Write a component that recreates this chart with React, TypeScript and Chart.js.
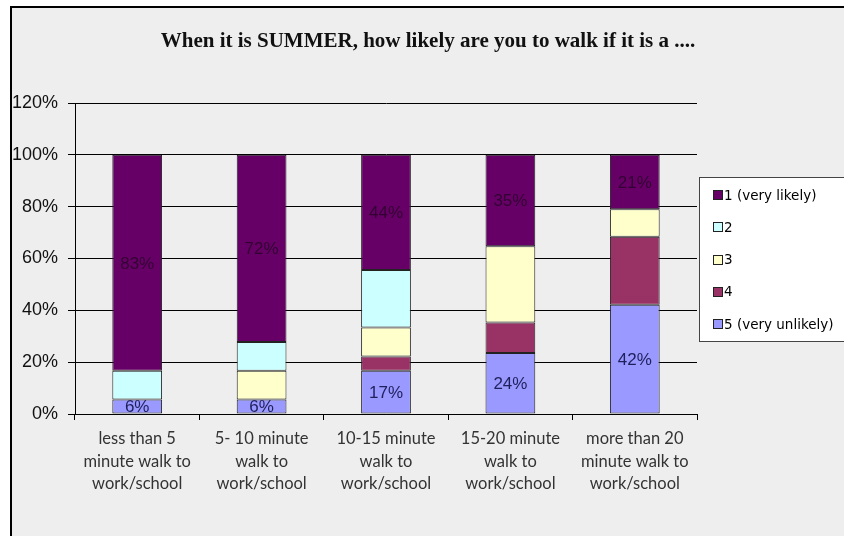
import { useEffect, useRef } from 'react';
import { Chart, registerables } from 'chart.js';

Chart.register(...registerables);

// Walking distance categories (x axis), one line per array entry
const categories: string[][] = [
  ['less than 5', 'minute walk to', 'work/school'],
  ['5- 10 minute', 'walk to', 'work/school'],
  ['10-15 minute', 'walk to', 'work/school'],
  ['15-20 minute', 'walk to', 'work/school'],
  ['more than 20', 'minute walk to', 'work/school'],
];

// Share of answers (%) per rating
const veryLikely = [83.33, 72.22, 44.44, 35.29, 21.05];
const rating2 = [11.11, 11.11, 22.22, 0, 0];
const rating3 = [0, 11.11, 11.11, 29.41, 10.53];
const rating4 = [0, 0, 5.56, 11.76, 26.32];
const veryUnlikely = [5.56, 5.56, 16.67, 23.53, 42.11];

const seriesNames = ['1 (very likely)', '2', '3', '4', '5 (very unlikely)'];
const seriesColors = ['#660066', '#CCFFFF', '#FFFFCC', '#993366', '#9999FF'];
const labelColors = ['#330033', '', '', '', '#1f1f5c'];

const yMin = 0;
const yMax = 120;
const yStep = 20;

const titleText = 'When it is SUMMER, how likely are you to walk if it is a ....';

const W = 844;
const H = 536;

export default function App() {
  const ref = useRef<HTMLCanvasElement | null>(null);

  useEffect(() => {
    const canvas = ref.current;
    if (!canvas) return;

    const seriesValues = [veryLikely, rating2, rating3, rating4, veryUnlikely];
    // stack from the bottom: rating 5 first, rating 1 on top
    const order = [4, 3, 2, 1, 0];
    const datasets = order.map((s) => ({
      label: seriesNames[s],
      data: seriesValues[s],
      backgroundColor: seriesColors[s],
      borderColor: '#222222',
      borderWidth: 1,
      borderSkipped: false as const,
      seriesIndex: s,
    }));

    const frame = {
      id: 'frame',
      beforeDraw(chart: any) {
        const ctx = chart.ctx;
        ctx.save();
        ctx.fillStyle = '#ffffff';
        ctx.fillRect(0, 0, W, H);
        ctx.fillStyle = '#eeeeee';
        ctx.fillRect(11, 7, W, H);
        ctx.strokeStyle = '#000000';
        ctx.lineWidth = 2;
        ctx.beginPath();
        ctx.moveTo(11, H + 5);
        ctx.lineTo(11, 7);
        ctx.lineTo(W + 5, 7);
        ctx.stroke();
        // chart title
        ctx.fillStyle = '#111111';
        ctx.font = 'bold 21px "Liberation Serif", serif';
        ctx.textAlign = 'center';
        ctx.textBaseline = 'middle';
        ctx.fillText(titleText, 428, 42);
        ctx.restore();
      },
    };

    const valueLabels = {
      id: 'valueLabels',
      afterDatasetsDraw(chart: any) {
        const ctx = chart.ctx;
        ctx.save();
        ctx.font = '17px "Liberation Sans", Arial, sans-serif';
        ctx.textAlign = 'center';
        ctx.textBaseline = 'middle';
        chart.data.datasets.forEach((ds: any, di: number) => {
          const color = labelColors[ds.seriesIndex];
          if (!color) return;
          const meta = chart.getDatasetMeta(di);
          meta.data.forEach((el: any, i: number) => {
            const v = ds.data[i];
            if (!v) return;
            const p = el.getCenterPoint();
            ctx.fillStyle = color;
            ctx.fillText(Math.round(v) + '%', p.x, p.y + 1);
          });
        });
        ctx.restore();
      },
    };

    const legendBox = {
      id: 'legendBox',
      afterDraw(chart: any) {
        const ctx = chart.ctx;
        ctx.save();
        ctx.fillStyle = '#ffffff';
        ctx.fillRect(699.5, 177.5, 160, 164);
        ctx.strokeStyle = '#444444';
        ctx.lineWidth = 1;
        ctx.strokeRect(699.5, 177.5, 160, 164);
        ctx.font = '13.5px "DejaVu Sans", sans-serif';
        ctx.textAlign = 'left';
        ctx.textBaseline = 'middle';
        for (let s = 0; s < seriesNames.length; s++) {
          const cy = 195 + s * 32.3;
          ctx.fillStyle = seriesColors[s];
          ctx.fillRect(713.5, Math.round(cy) - 4.5, 9, 9);
          ctx.strokeStyle = '#222222';
          ctx.strokeRect(713.5, Math.round(cy) - 4.5, 9, 9);
          ctx.fillStyle = '#000000';
          ctx.fillText(seriesNames[s], 724, cy + 1);
        }
        ctx.restore();
      },
    };

    const chart = new Chart(canvas, {
      type: 'bar',
      data: { labels: categories, datasets },
      options: {
        responsive: false,
        animation: false,
        layout: { padding: { top: 103, right: 147, bottom: 0, left: 0 } },
        plugins: {
          legend: { display: false },
          title: { display: false },
          tooltip: { enabled: false },
        },
        datasets: { bar: { categoryPercentage: 1, barPercentage: 0.4 } },
        scales: {
          x: {
            stacked: true,
            offset: true,
            grid: {
              display: true,
              offset: true,
              drawOnChartArea: false,
              drawTicks: true,
              tickLength: 6,
              color: '#000000',
            },
            border: { display: true, color: '#000000', width: 1 },
            ticks: {
              color: '#333333',
              padding: 8,
              maxRotation: 0,
              autoSkip: false,
              font: { family: 'Lato, "Open Sans", sans-serif', size: 16.5, lineHeight: 1.35 },
            },
            afterFit(scale: any) {
              scale.height = 122;
            },
          },
          y: {
            stacked: true,
            min: yMin,
            max: yMax,
            grid: { color: '#000000', lineWidth: 1, tickLength: 7, drawTicks: true },
            border: { display: true, color: '#000000', width: 1 },
            ticks: {
              stepSize: yStep,
              padding: 10,
              color: '#111111',
              font: { family: '"Liberation Sans", Arial, sans-serif', size: 18 },
              callback: (v: any) => v + '%',
            },
            afterFit(scale: any) {
              scale.width = 75;
            },
          },
        },
      },
      plugins: [frame, valueLabels, legendBox],
    });

    return () => chart.destroy();
  }, []);

  return (
    <div style={{ position: 'absolute', left: 0, top: 0, width: W, height: H }}>
      <canvas ref={ref} width={W} height={H} style={{ display: 'block' }} />
    </div>
  );
}
